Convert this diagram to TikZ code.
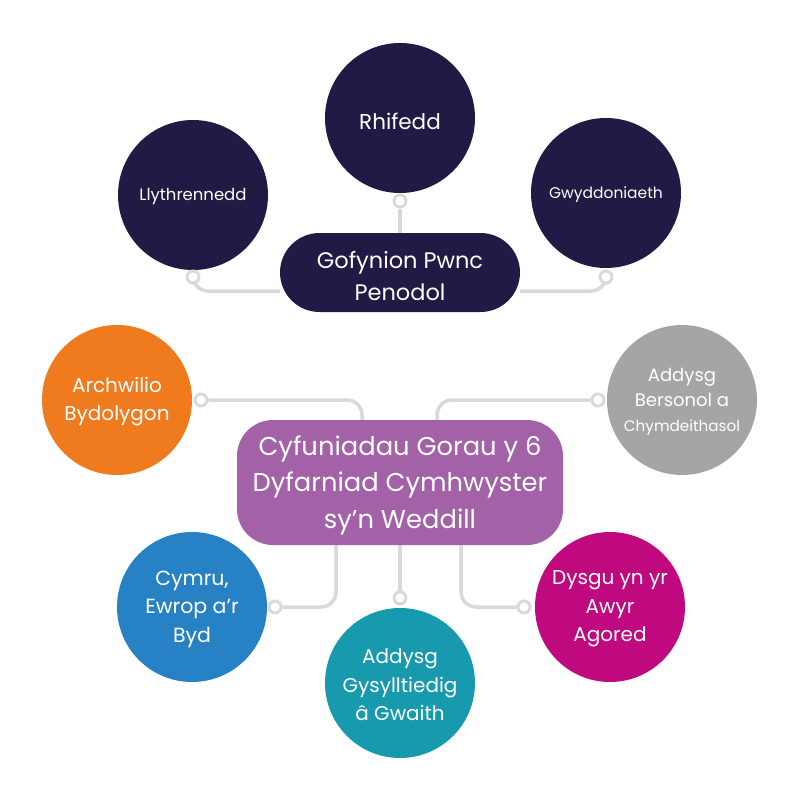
\documentclass[tikz,border=0pt]{standalone}
\usepackage{fontspec}
\setmainfont{Poppins}
\usetikzlibrary{backgrounds}
\definecolor{navy}{HTML}{221A45}
\definecolor{purp}{HTML}{A361A8}
\definecolor{orng}{HTML}{F07B1E}
\definecolor{grey}{HTML}{A5A5A5}
\definecolor{blu}{HTML}{2781C5}
\definecolor{teal2}{HTML}{1799AE}
\definecolor{mag}{HTML}{C0097E}
\definecolor{conncol}{HTML}{D9D9D9}
\tikzset{
  bub/.style={circle, minimum size=150pt, inner sep=0pt},
  dot/.style={circle, draw=conncol, fill=white, line width=3pt, minimum size=12pt, inner sep=0pt},
  conn/.style={draw=conncol, line width=3.5pt, rounded corners=15pt},
  lbl/.style={text=white, align=center, inner sep=0pt},
}
\begin{document}
\begin{tikzpicture}[x=1pt,y=-1pt]
\useasboundingbox (0,0) rectangle (800,800);
% top group
\node[bub, fill=navy] (rhi) at (400,118) {};
\node[lbl, font=\fontsize{21.5}{24}\selectfont] (rhiT) at (400,121) {Rhifedd};
\node[bub, fill=navy] (lly) at (193,195) {};
\node[lbl, font=\fontsize{16.5}{18}\selectfont] (llyT) at (193,197) {Llythrennedd};
\node[bub, fill=navy] (gwy) at (606,193) {};
\node[lbl, font=\fontsize{15.5}{17}\selectfont] (gwyT) at (606,195) {Gwyddoniaeth};
\node[rectangle, rounded corners=39.5pt, fill=navy, minimum width=240pt, minimum height=79pt] (gof) at (400,272.5) {};
\node[lbl, font=\fontsize{22.5}{32}\selectfont] (gofT) at (400,276) {Gofynion Pwnc\\Penodol};
% centre
\node[rectangle, rounded corners=36pt, fill=purp, minimum width=326pt, minimum height=125pt] (cen) at (400,482.5) {};
\node[lbl, font=\fontsize{25.8}{36.5}\selectfont] (cenT) at (400,485) {Cyfuniadau Gorau y 6\\Dyfarniad Cymhwyster\\sy’n Weddill};
% side bubbles
\node[bub, fill=orng] (arc) at (117,400) {};
\node[lbl, font=\fontsize{20}{28}\selectfont] (arcT) at (117,402) {Archwilio\\Bydolygon};
\node[bub, fill=grey] (abc) at (682,400) {};
\node[lbl, font=\fontsize{18}{25}\selectfont] (abcT) at (682,402) {Addysg\\Bersonol a\\{\fontsize{15.2}{25}\selectfont Chymdeithasol}};
\node[bub, fill=blu] (cym) at (192,607) {};
\node[lbl, font=\fontsize{20.5}{28.5}\selectfont] (cymT) at (192,609) {Cymru,\\Ewrop a’r\\Byd};
\node[bub, fill=teal2] (agg) at (400,683) {};
\node[lbl, font=\fontsize{20}{28.5}\selectfont] (aggT) at (400,685) {Addysg\\Gysylltiedig\\â Gwaith};
\node[bub, fill=mag] (dys) at (610,607) {};
\node[lbl, font=\fontsize{20}{28.5}\selectfont] (dysT) at (610,609) {Dysgu yn yr\\Awyr\\Agored};
% connector dots
\node[dot] (d1) at (400,201) {};
\node[dot] (d2) at (193,277) {};
\node[dot] (d3) at (606,277) {};
\node[dot] (d4) at (201,400) {};
\node[dot] (d5) at (598,400) {};
\node[dot] (d6) at (275,607) {};
\node[dot] (d7) at (400,598) {};
\node[dot] (d8) at (524,607) {};
\coordinate (g2) at (280,291);
\coordinate (g3) at (520,291);
\coordinate (c4) at (362,422);
\coordinate (c5) at (437,422);
\coordinate (c6) at (336,543);
\coordinate (c8) at (461,543);
\begin{scope}[on background layer]
\draw[conn] (d1.south) -- (gof.north);
\draw[conn] (d2.south) |- (g2);
\draw[conn] (d3.south) |- (g3);
\draw[conn] (d4.east) -| (c4);
\draw[conn] (d5.west) -| (c5);
\draw[conn] (d6.east) -| (c6);
\draw[conn] (d7.north) -- (cen.south);
\draw[conn] (d8.west) -| (c8);
\end{scope}
\end{tikzpicture}
\end{document}
